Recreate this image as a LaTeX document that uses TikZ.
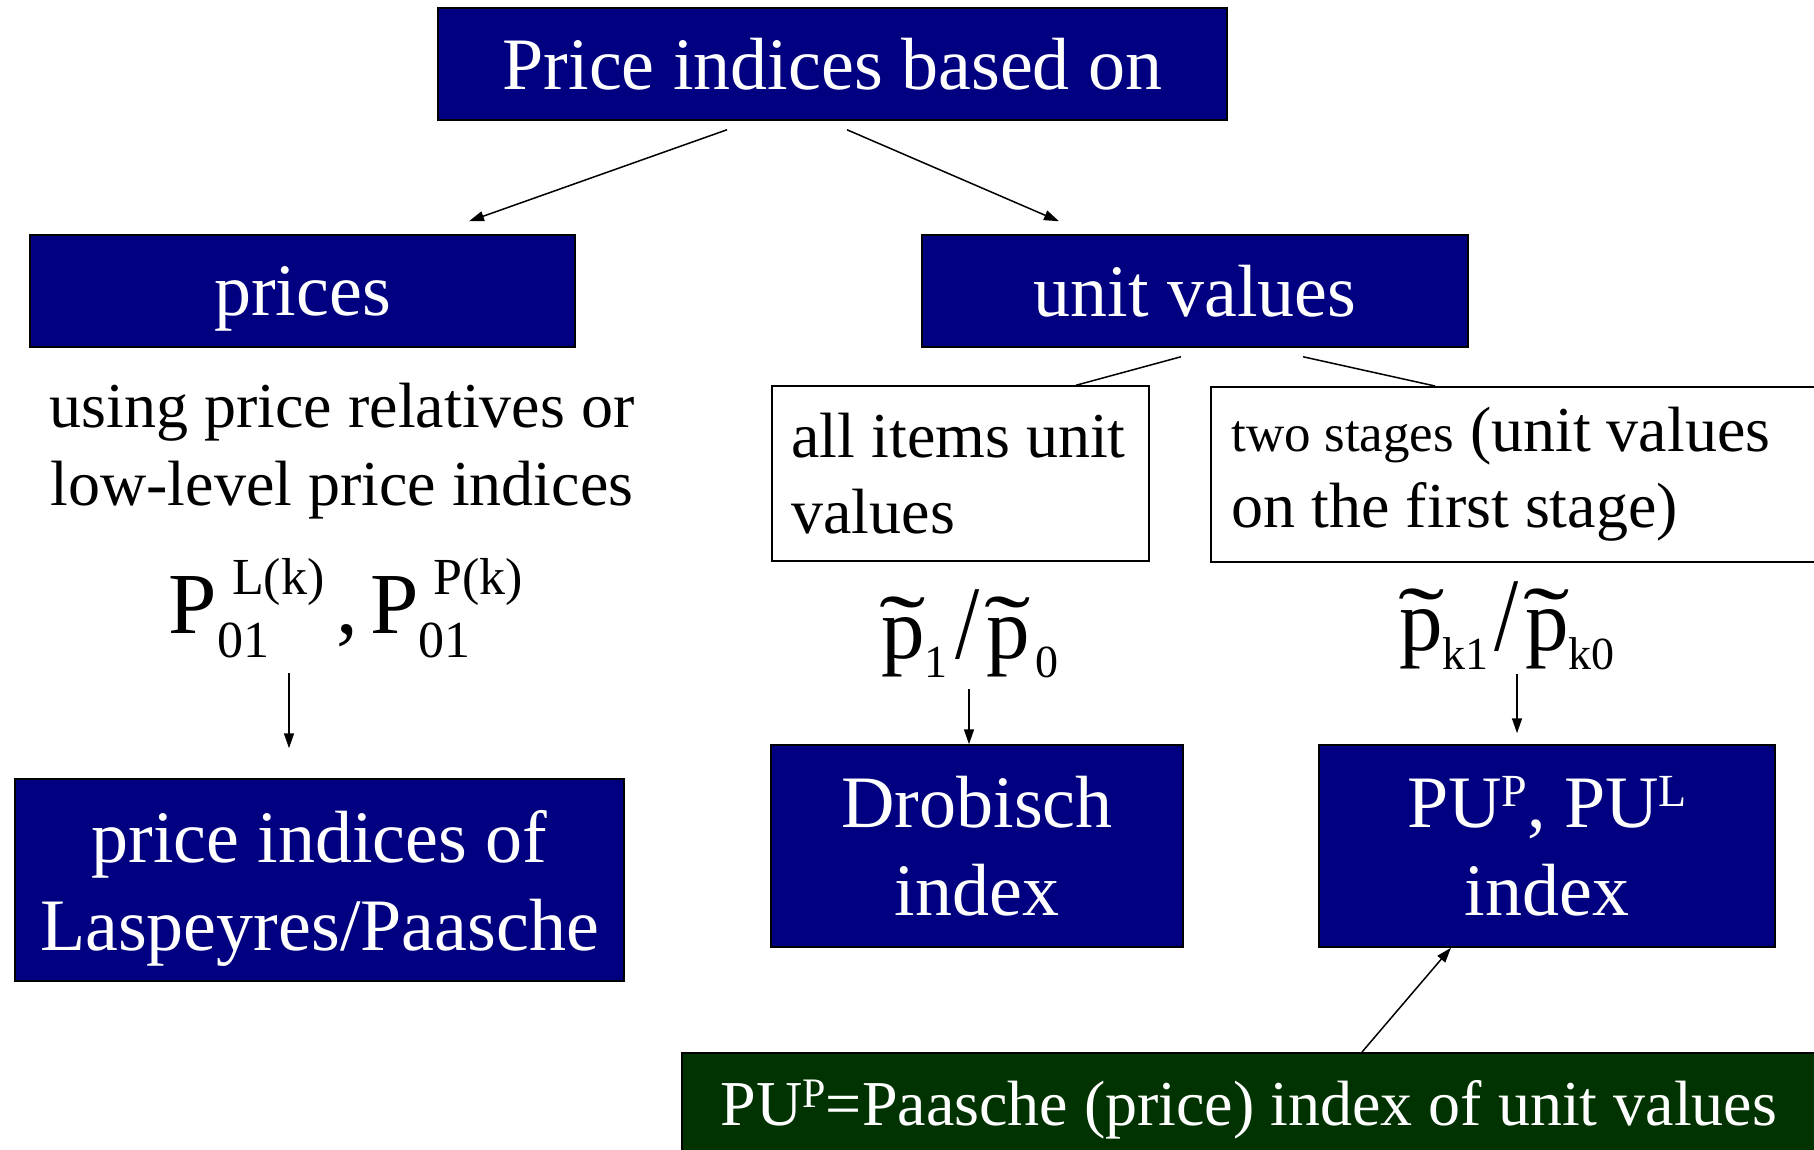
\documentclass[tikz,border=0pt]{standalone}
\usepackage{graphicx}
\usepackage{fontspec}
\setmainfont{Liberation Serif}
\usetikzlibrary{arrows.meta}

\definecolor{navybox}{RGB}{0,0,128}
\definecolor{greenbox}{RGB}{0,51,0}

% Индексы и тильда
\newcommand\supfont{\fontsize{52}{52}\selectfont}
\newcommand\Pidx[3]{#1\rlap{\raisebox{-0.28em}{\supfont #3}}\hspace{0.17em}\raisebox{0.44em}{\supfont #2}}
\newcommand\tp{\ooalign{p\cr\hidewidth\raisebox{0.03em}{\scalebox{1.6}[1]{\char"02DC}}\hidewidth\cr}}
\newcommand\lowsub[1]{\raisebox{-0.22em}{\fontsize{46}{46}\selectfont #1}}
\newcommand\bigslash{\scalebox{1}[1.2]{/}}
\newcommand\upP[1]{\raisebox{0.28em}{\fontsize{46}{46}\selectfont #1}}

\tikzset{
	bluebox/.style={draw=black, line width=1.5pt, fill=navybox, text=white, align=center,
		inner sep=0pt, text depth=0pt, font=\fontsize{74}{88}\selectfont},
	whitebox/.style={draw=black, line width=1.5pt, fill=white, align=left,
		inner sep=0pt, font=\fontsize{64}{76}\selectfont,
		execute at begin node={\spaceskip=0pt\xspaceskip=0pt}},
	formula/.style={anchor=base, inner sep=0pt, font=\fontsize{87}{90}\selectfont},
	arr/.style={-{Triangle[length=15pt,width=10pt]}, line width=1.5pt},
	conn/.style={line width=1.5pt}
}

\begin{document}
\begin{tikzpicture}[x=1pt, y=-1pt]
	% Рамка рисунка
	\clip (0,0) rectangle (1814,1149);

	% Верхний уровень
	\node[bluebox, minimum width=789pt, minimum height=112pt] (top) at (832.5,64) {Price indices based on};
	\node[bluebox, minimum width=545pt, minimum height=112pt] (prices) at (302.5,291) {prices};
	\node[bluebox, minimum width=546pt, minimum height=112pt] (unitv) at (1195,291) {unit values};

	% Левая ветвь
	\node[align=center, inner sep=0pt, text depth=0pt, font=\fontsize{64}{78}\selectfont] (using) at (342,444)
		{using price relatives or\\low-level price indices};
	\node[formula] (pform) at (346,633)
		{\Pidx{P}{L(k)}{01}\hspace{12pt},\hspace{12pt}\Pidx{P}{P(k)}{01}};
	\node[bluebox, minimum width=609pt, minimum height=202pt] (lasp) at (319.5,880)
		{price indices of\\Laspeyres/Paasche};

	% Правая ветвь
	\node[whitebox, text width=338pt, minimum width=377pt, minimum height=175pt] (allitems) at (960.5,473.5)
		{all items unit\\values};
	\node[whitebox, text width=600pt, minimum width=642pt, minimum height=175pt, anchor=north west] (twostages) at (1210,386)
		{{\fontsize{53}{76}\selectfont two stages} (unit values\\on the first stage)};
	\node[formula] (pratio) at (970,658)
		{\tp\lowsub{1}\hspace{8pt}\bigslash\hspace{6pt}\tp\hspace{6pt}\lowsub{0}};
	\node[formula] (pkratio) at (1507,650)
		{\tp\lowsub{k1}\hspace{6pt}\bigslash\hspace{6pt}\tp\lowsub{k0}};
	\node[bluebox, minimum width=412pt, minimum height=202pt] (drob) at (977,846) {Drobisch\\index};
	\node[bluebox, minimum width=456pt, minimum height=202pt] (puidx) at (1547,846)
		{PU\upP{P}, PU\upP{L}\\index};

	% Пояснение внизу
	\node[bluebox, fill=greenbox, align=left, text width=1100pt, minimum width=1178pt, minimum height=100pt,
		anchor=north west, font=\fontsize{64}{76}\selectfont,
		execute at begin node={\spaceskip=0pt\xspaceskip=0pt}] (note) at (681,1052)
		{PU\raisebox{0.28em}{\fontsize{42}{42}\selectfont P}=Paasche (price) index of unit values};

	% Стрелки
	\draw[arr] ([xshift=-105.5pt,yshift=-9pt]top.south) -- ([xshift=166.5pt,yshift=13pt]prices.north);
	\draw[arr] ([xshift=14.5pt,yshift=-9pt]top.south) -- ([xshift=-136pt,yshift=13pt]unitv.north);
	\draw[conn] ([xshift=-14pt,yshift=-9pt]unitv.south) -- ([xshift=115.5pt]allitems.north);
	\draw[conn] ([xshift=108pt,yshift=-9pt]unitv.south) -- ([xshift=225pt]twostages.north west);
	\draw[arr] ([xshift=-57pt,yshift=-40pt]pform.base) -- ([xshift=-30.5pt,yshift=30pt]lasp.north);
	\draw[arr] ([xshift=-1pt,yshift=-31pt]pratio.base) -- ([xshift=-8pt]drob.north);
	\draw[arr] ([xshift=10pt,yshift=-24pt]pkratio.base) -- ([xshift=-30pt,yshift=11pt]puidx.north);
	\draw[arr] ([xshift=681pt]note.north west) -- ([xshift=-96pt]puidx.south);
\end{tikzpicture}
\end{document}
